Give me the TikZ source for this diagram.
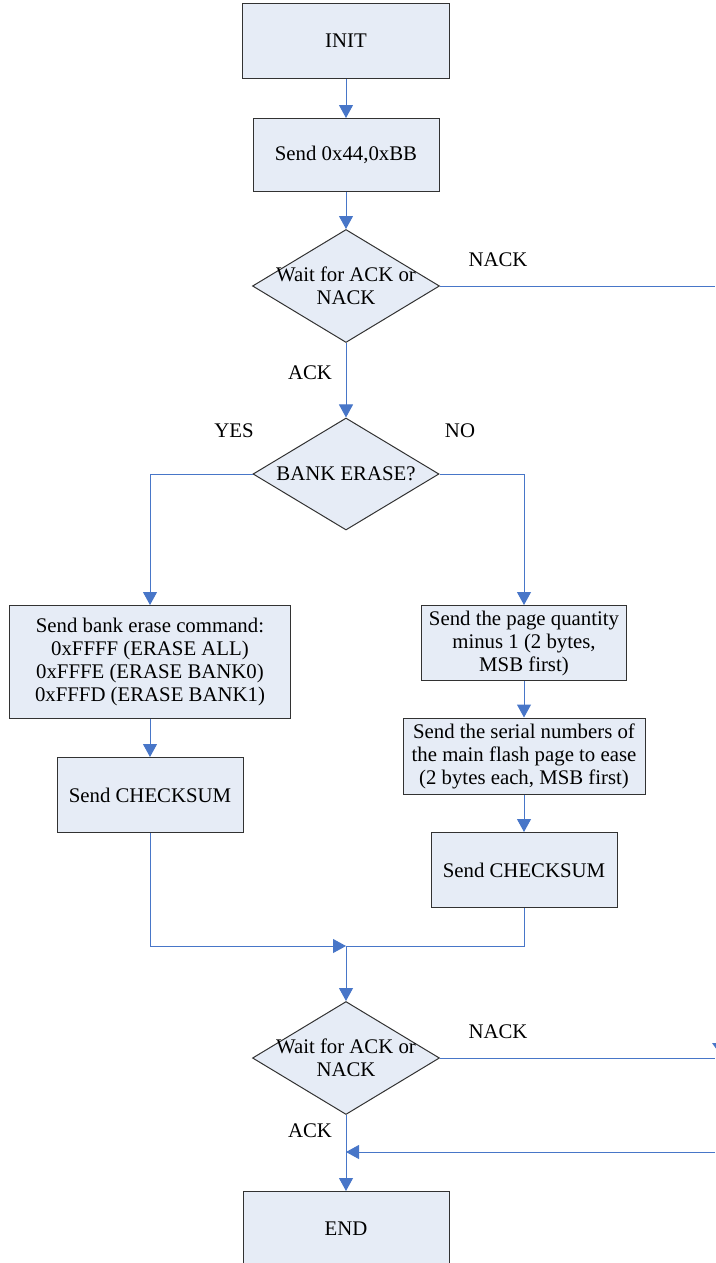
\documentclass[tikz,border=0pt]{standalone}
\usepackage{fontspec}
\setmainfont{Liberation Serif}
\usetikzlibrary{shapes.geometric,arrows.meta}
\definecolor{boxfill}{RGB}{230,236,246}
\definecolor{boxline}{RGB}{50,50,50}
\definecolor{flowblue}{RGB}{72,118,200}
\tikzset{
  every node/.style={font=\fontsize{20.8}{23}\selectfont},
  stepbox/.style={draw=boxline, fill=boxfill, line width=1pt, rectangle,
    inner sep=0pt, align=center},
  decide/.style={draw=boxline, fill=boxfill, line width=1pt, diamond,
    inner sep=0pt, minimum width=187pt, minimum height=113pt},
  flow/.style={draw=flowblue, line width=1pt},
  arr/.style={flow, -{Triangle[width=14pt,length=13pt]}},
  tag/.style={inner sep=0pt}
}
\begin{document}
\begin{tikzpicture}[x=1pt,y=-1pt]
\useasboundingbox (0,0) rectangle (715,1263);

% process steps
\node[stepbox, minimum width=207pt, minimum height=75pt] (init) at (346,41) {INIT};
\node[stepbox, minimum width=186pt, minimum height=73pt] (send) at (346,155) {Send 0x44,0xBB};
\node[decide, label={[align=center,inner sep=0pt]center:Wait for ACK or\\NACK}] (wait1) at (346,286) {};
\node[decide, minimum width=186pt, minimum height=112pt,
      label={[inner sep=0pt]center:BANK ERASE?}] (bank) at (346,474) {};

\node[stepbox, minimum width=281pt, minimum height=113pt] (bankcmd) at (150,662)
  {Send bank erase command:\\0xFFFF (ERASE ALL)\\0xFFFE (ERASE BANK0)\\0xFFFD (ERASE BANK1)};
\node[stepbox, minimum width=186pt, minimum height=75pt] (sum1) at (150,795) {Send CHECKSUM};

\node[stepbox, minimum width=205pt, minimum height=75pt] (qty) at (524,643)
  {Send the page quantity\\minus 1 (2 bytes,\\MSB first)};
\node[stepbox, minimum width=242pt, minimum height=76pt] (pages) at (524,756)
  {Send the serial numbers of\\the main flash page to ease\\(2 bytes each, MSB first)};
\node[stepbox, minimum width=186pt, minimum height=75pt] (sum2) at (524,870) {Send CHECKSUM};

\node[decide, label={[align=center,inner sep=0pt]center:Wait for ACK or\\NACK}] (wait2) at (346,1058) {};
\node[stepbox, minimum width=206pt, minimum height=75pt] (stop) at (346,1229) {END};

% junction and off-page points
\coordinate (merge) at (346,946);
\coordinate (nack1) at (715,286);
\coordinate (nack2) at (715,1058);
\coordinate (retin) at (715,1152);
\coordinate (retpt) at (346,1152);

% connectors
\draw[arr] (init) -- (send);
\draw[arr] (send) -- (wait1);
\draw[flow] (wait1.east) -- (nack1);
\draw[arr] (wait1) -- (bank);
\draw[arr] (bank.west) -| (bankcmd.north);
\draw[arr] (bank.east) -| (qty.north);
\draw[arr] (bankcmd) -- (sum1);
\draw[arr] (qty) -- (pages);
\draw[arr] (pages) -- (sum2);
\draw[arr] (sum1.south) |- (merge);
\draw[flow] (sum2.south) |- (merge);
\draw[arr] (merge) -- (wait2);
\draw[flow] (wait2.east) -- (nack2);
\draw[arr] (retin) -- (retpt);
\draw[arr] (wait2) -- (stop);
\fill[flowblue] (712,1043) -- (722,1043) -- (717,1050) -- cycle;

% branch labels
\node[tag] (l1) at (498,260) {NACK};
\node[tag] (l2) at (310,373) {ACK};
\node[tag] (l3) at (234,431) {YES};
\node[tag] (l4) at (460,431) {NO};
\node[tag] (l5) at (498,1032) {NACK};
\node[tag] (l6) at (310,1131) {ACK};
\end{tikzpicture}
\end{document}
